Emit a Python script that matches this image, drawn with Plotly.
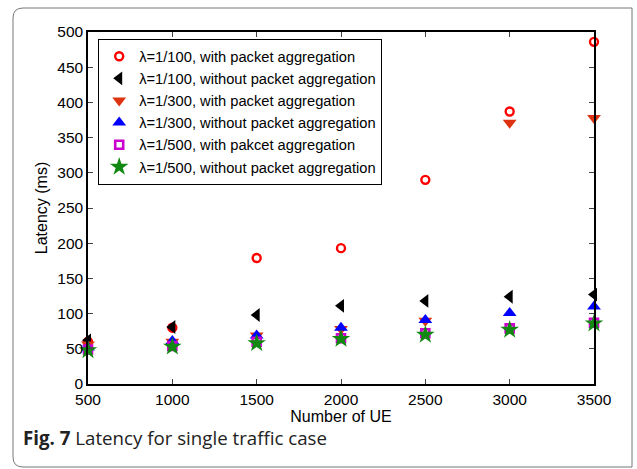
import plotly.graph_objects as go

ue = [500, 1000, 1500, 2000, 2500, 3000, 3500]
lat_100_with = [60, 80, 179, 193, 290, 387, 486]
lat_100_without = [62, 81, 98, 111, 118, 124, 127]
lat_300_with = [56, 60, 69, 78, 90, 371, 378]
lat_300_without = [52, 61, 69, 80, 91, 101, 110]
lat_500_with = [49, 54, 60, 65, 72, 79, 87]
lat_500_without = [48, 53, 58, 64, 70, 77, 86]

x_ticks = [500, 1000, 1500, 2000, 2500, 3000, 3500]
y_ticks = [0, 50, 100, 150, 200, 250, 300, 350, 400, 450, 500]

series = [
    ("λ=1/100, with packet aggregation", lat_100_with,
     dict(symbol="circle-open", color="#ff0000", size=8, line=dict(width=2.4, color="#ff0000"))),
    ("λ=1/100, without packet aggregation", lat_100_without,
     dict(symbol="triangle-left", color="#000000", size=12, line=dict(width=0))),
    ("λ=1/300, with packet aggregation", lat_300_with,
     dict(symbol="triangle-down", color="#dd3311", size=12, line=dict(width=0))),
    ("λ=1/300, without packet aggregation", lat_300_without,
     dict(symbol="triangle-up", color="#0000ff", size=12, line=dict(width=0))),
    ("λ=1/500, with pakcet aggregation", lat_500_with,
     dict(symbol="square-open", color="#cc00cc", size=8, line=dict(width=2.6, color="#cc00cc"))),
    ("λ=1/500, without packet aggregation", lat_500_without,
     dict(symbol="star", color="#118811", size=14, line=dict(width=0))),
]

fig = go.Figure()
for name, vals, mk in series:
    fig.add_trace(go.Scatter(x=ue, y=vals, mode="markers", name=name, marker=mk, cliponaxis=False))

W, H = 637, 469
L, R, T, B = 88, 43, 32, 85
pw, ph = W - L - R, H - T - B

def px(x):
    return (x - L) / pw

def py(y):
    return (H - B - y) / ph

# rounded outer frame
x0, x1, y0, y1, r = 13, 632, 8, 467, 10
path = (f"M {px(x0+r)} {py(y0)} L {px(x1)} {py(y0)} L {px(x1)} {py(y1)} "
        f"L {px(x0+r)} {py(y1)} Q {px(x0)} {py(y1)} {px(x0)} {py(y1-r)} "
        f"L {px(x0)} {py(y0+r)} Q {px(x0)} {py(y0)} {px(x0+r)} {py(y0)} Z")

fig.update_layout(
    width=W, height=H,
    margin=dict(l=L, r=R, t=T, b=B),
    paper_bgcolor="white", plot_bgcolor="white",
    font=dict(family="Liberation Sans, Arial, sans-serif", size=15.5, color="#000"),
    showlegend=True,
    legend=dict(x=px(98), y=py(39), xanchor="left", yanchor="top",
                bordercolor="#000", borderwidth=1.2, bgcolor="white",
                font=dict(size=14.7, color="#000"), tracegroupgap=0),
    shapes=[dict(type="path", path=path, xref="paper", yref="paper",
                 line=dict(color="#777", width=1), layer="below")],
    annotations=[dict(text="<b>Fig. 7</b> Latency for single traffic case",
                      x=px(21), y=py(437), xref="paper", yref="paper",
                      xanchor="left", yanchor="middle", showarrow=False,
                      font=dict(family="Open Sans, Noto Sans, sans-serif", size=18.7, color="#222"))],
)
fig.update_xaxes(range=[500, 3500], tickvals=x_ticks, ticks="inside", ticklen=5,
                 showline=True, linecolor="#000", linewidth=1.5, mirror="allticks",
                 showgrid=False, zeroline=False, ticklabelstandoff=1,
                 title=dict(text="Number of UE", standoff=0, font=dict(size=16)))
fig.update_yaxes(range=[0, 500], tickvals=y_ticks, ticks="inside", ticklen=5,
                 showline=True, linecolor="#000", linewidth=1.5, mirror="allticks",
                 showgrid=False, zeroline=False,
                 title=dict(text="Latency (ms)", standoff=6, font=dict(size=16)))

fig.write_html("out.html")
